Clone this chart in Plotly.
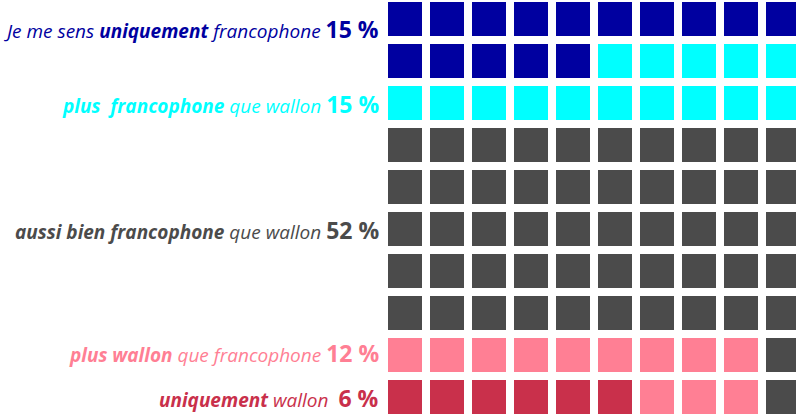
import plotly.graph_objects as go

# ---- data ----
categories = [
    "uniquement francophone",
    "plus francophone que wallon",
    "aussi bien francophone que wallon",
    "plus wallon que francophone",
    "uniquement wallon",
]
percent = [15, 15, 52, 12, 6]
label_html = [
    "<i>Je me sens <b>uniquement</b> francophone</i>",
    "<i><b>plus  francophone</b> que wallon</i>",
    "<i><b>aussi bien francophone</b> que wallon</i>",
    "<i><b>plus wallon</b> que francophone</i>",
    "<i><b>uniquement</b> wallon </i>",
]
colors = ["#0000A0", "#00FFFF", "#4B4B4B", "#FF7F94", "#C9304B"]
label_ypx = [29, 104, 230, 353, 398]

# ---- layout constants ----
W, H = 796, 416
NCOL, NROW = 10, 10
STEP = 42
X0_CENTER = 405  # pixel centre of first column
Y0_CENTER = 19   # pixel centre of first row

# ---- build grid ----
grid = [[2 for _ in range(NCOL)] for _ in range(NROW)]  # default: middle category
pos = 0
for ci in [0, 1]:
    for _ in range(percent[ci]):
        r, c = divmod(pos, NCOL)
        grid[r][c] = ci
        pos += 1
pos = 0
for ci in [4, 3]:
    for _ in range(percent[ci]):
        r, c = divmod(pos, NCOL - 1)
        grid[NROW - 1 - r][c] = ci
        pos += 1

n = len(colors)
cs = []
for i, col in enumerate(colors):
    cs.append([i / n, col])
    cs.append([(i + 1) / n, col])

fig = go.Figure(
    go.Heatmap(
        z=grid,
        x=list(range(NCOL)),
        y=list(range(NROW)),
        colorscale=cs,
        zmin=-0.5,
        zmax=n - 0.5,
        xgap=8,
        ygap=8,
        showscale=False,
        hoverinfo="skip",
    )
)

fig.update_xaxes(
    range=[-X0_CENTER / STEP, (W - X0_CENTER) / STEP],
    visible=False, fixedrange=True,
)
fig.update_yaxes(
    range=[(H - Y0_CENTER) / STEP, -Y0_CENTER / STEP],
    visible=False, fixedrange=True,
)

for i in range(n):
    fig.add_annotation(
        xref="paper", yref="paper",
        x=381 / W, y=1 - label_ypx[i] / H,
        xanchor="right", yanchor="middle",
        text=f"{label_html[i]} <b><span style='font-size:23px'>{percent[i]} %</span></b>",
        showarrow=False,
        font=dict(family="Open Sans", size=19, color=colors[i]),
    )

fig.update_layout(
    width=W, height=H,
    margin=dict(l=0, r=0, t=0, b=0),
    paper_bgcolor="white", plot_bgcolor="white",
    showlegend=False,
)

fig.write_html(
    "out.html",
    config={"displayModeBar": False},
    post_script="document.body.style.margin='0';document.body.style.overflow='hidden';",
)
